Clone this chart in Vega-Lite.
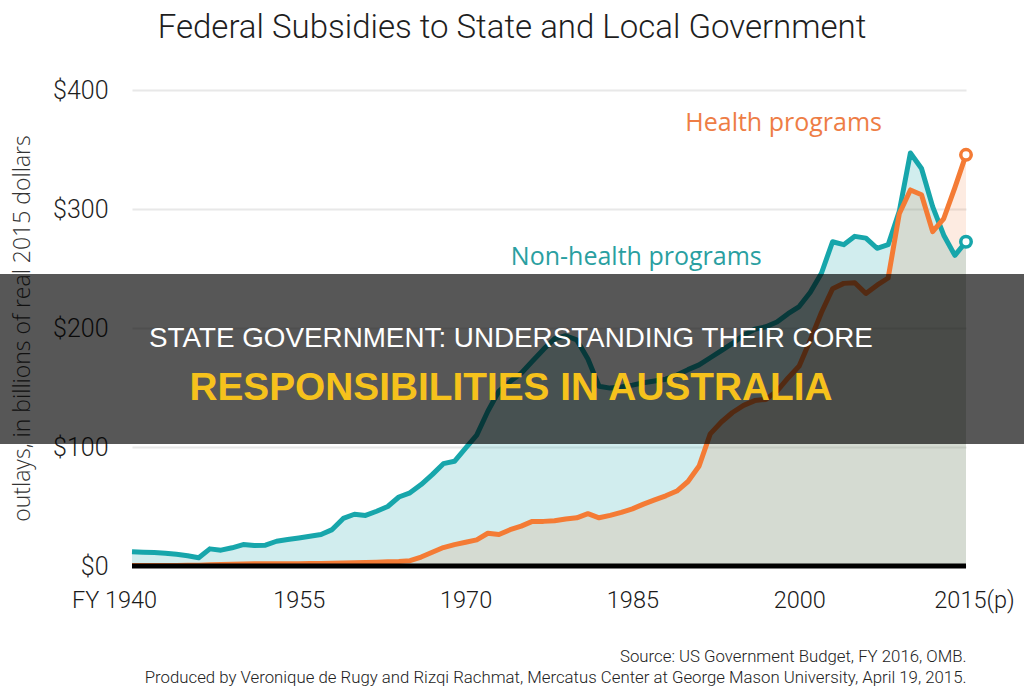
{
  "$schema": "https://vega.github.io/schema/vega-lite/v6.json",
  "autosize": {"type": "none"},
  "padding": {"left": 132, "top": 90, "right": 58, "bottom": 122},
  "width": 834,
  "height": 476,
  "background": "#ffffff",
  "config": {"view": {"stroke": null}},
  "title": {
    "text": "Federal Subsidies to State and Local Government",
    "font": "Roboto",
    "fontWeight": 300,
    "fontSize": 33,
    "color": "#1e1e1e",
    "anchor": "middle",
    "frame": "group",
    "dx": -37,
    "offset": 33
  },
  "datasets": {
    "outlays": [
      {"year": 1940, "nonhealth": 12.0, "health": 0.5},
      {"year": 1941, "nonhealth": 11.6, "health": 0.5},
      {"year": 1942, "nonhealth": 11.4, "health": 0.5},
      {"year": 1943, "nonhealth": 10.8, "health": 0.5},
      {"year": 1944, "nonhealth": 9.8, "health": 0.5},
      {"year": 1945, "nonhealth": 8.6, "health": 0.6},
      {"year": 1946, "nonhealth": 7.0, "health": 0.7},
      {"year": 1947, "nonhealth": 14.4, "health": 1.0},
      {"year": 1948, "nonhealth": 13.3, "health": 1.2},
      {"year": 1949, "nonhealth": 15.3, "health": 1.5},
      {"year": 1950, "nonhealth": 18.0, "health": 1.7},
      {"year": 1951, "nonhealth": 17.2, "health": 1.8},
      {"year": 1952, "nonhealth": 17.5, "health": 1.8},
      {"year": 1953, "nonhealth": 20.8, "health": 1.8},
      {"year": 1954, "nonhealth": 22.2, "health": 1.8},
      {"year": 1955, "nonhealth": 23.5, "health": 1.9},
      {"year": 1956, "nonhealth": 25.0, "health": 2.0},
      {"year": 1957, "nonhealth": 26.5, "health": 2.1},
      {"year": 1958, "nonhealth": 30.6, "health": 2.3},
      {"year": 1959, "nonhealth": 40.0, "health": 2.5},
      {"year": 1960, "nonhealth": 43.5, "health": 2.7},
      {"year": 1961, "nonhealth": 42.5, "health": 3.0},
      {"year": 1962, "nonhealth": 46.0, "health": 3.2},
      {"year": 1963, "nonhealth": 50.0, "health": 3.5},
      {"year": 1964, "nonhealth": 58.0, "health": 3.8},
      {"year": 1965, "nonhealth": 61.5, "health": 4.5},
      {"year": 1966, "nonhealth": 68.4, "health": 7.5},
      {"year": 1967, "nonhealth": 76.8, "health": 11.5},
      {"year": 1968, "nonhealth": 86.0, "health": 15.5},
      {"year": 1969, "nonhealth": 88.0, "health": 18.0},
      {"year": 1970, "nonhealth": 99.0, "health": 20.0},
      {"year": 1971, "nonhealth": 110.0, "health": 22.0},
      {"year": 1972, "nonhealth": 130.0, "health": 27.5},
      {"year": 1973, "nonhealth": 147.0, "health": 26.5},
      {"year": 1974, "nonhealth": 155.0, "health": 30.5},
      {"year": 1975, "nonhealth": 162.0, "health": 33.5},
      {"year": 1976, "nonhealth": 172.0, "health": 37.5},
      {"year": 1977, "nonhealth": 182.0, "health": 37.5},
      {"year": 1978, "nonhealth": 191.0, "health": 38.0},
      {"year": 1979, "nonhealth": 193.5, "health": 39.5},
      {"year": 1980, "nonhealth": 190.0, "health": 40.5},
      {"year": 1981, "nonhealth": 174.0, "health": 44.0},
      {"year": 1982, "nonhealth": 151.0, "health": 40.5},
      {"year": 1983, "nonhealth": 149.5, "health": 42.5},
      {"year": 1984, "nonhealth": 150.5, "health": 45.0},
      {"year": 1985, "nonhealth": 152.0, "health": 48.0},
      {"year": 1986, "nonhealth": 154.0, "health": 52.0},
      {"year": 1987, "nonhealth": 155.5, "health": 55.5},
      {"year": 1988, "nonhealth": 157.0, "health": 59.0},
      {"year": 1989, "nonhealth": 160.5, "health": 63.0},
      {"year": 1990, "nonhealth": 165.0, "health": 71.0},
      {"year": 1991, "nonhealth": 169.0, "health": 84.0},
      {"year": 1992, "nonhealth": 175.0, "health": 111.0},
      {"year": 1993, "nonhealth": 181.0, "health": 121.0},
      {"year": 1994, "nonhealth": 187.0, "health": 129.0},
      {"year": 1995, "nonhealth": 194.0, "health": 135.0},
      {"year": 1996, "nonhealth": 199.0, "health": 139.0},
      {"year": 1997, "nonhealth": 201.0, "health": 140.0},
      {"year": 1998, "nonhealth": 205.0, "health": 147.0},
      {"year": 1999, "nonhealth": 212.0, "health": 158.0},
      {"year": 2000, "nonhealth": 218.0, "health": 168.0},
      {"year": 2001, "nonhealth": 230.0, "health": 190.0},
      {"year": 2002, "nonhealth": 246.0, "health": 213.0},
      {"year": 2003, "nonhealth": 272.5, "health": 233.0},
      {"year": 2004, "nonhealth": 270.0, "health": 237.5},
      {"year": 2005, "nonhealth": 277.0, "health": 238.0},
      {"year": 2006, "nonhealth": 275.5, "health": 229.0},
      {"year": 2007, "nonhealth": 267.0, "health": 236.0},
      {"year": 2008, "nonhealth": 270.0, "health": 242.0},
      {"year": 2009, "nonhealth": 298.0, "health": 296.0},
      {"year": 2010, "nonhealth": 347.0, "health": 316.0},
      {"year": 2011, "nonhealth": 334.0, "health": 312.0},
      {"year": 2012, "nonhealth": 302.0, "health": 281.0},
      {"year": 2013, "nonhealth": 278.0, "health": 292.0},
      {"year": 2014, "nonhealth": 261.0, "health": 318.0},
      {"year": 2015, "nonhealth": 272.5, "health": 345.5}
    ]
  },
  "layer": [
    {
      "data": {"name": "outlays"},
      "mark": {"type": "area", "color": "#17a6ab", "opacity": 0.2},
      "encoding": {
        "x": {
          "field": "year", "type": "quantitative",
          "scale": {"domain": [1940, 2015], "nice": false, "zero": false},
          "axis": {
            "values": [1940, 1955, 1970, 1985, 2000, 2015],
            "format": "d",
            "labelExpr": "datum.value == 1940 ? 'FY 1940' : datum.value == 2015 ? '2015(p)' : datum.label",
            "labelFlush": false,
            "labelBound": false,
            "labelOverlap": false,
            "grid": false, "domain": false, "ticks": false,
            "labelFont": "Roboto",
            "labelFontWeight": 300,
            "labelFontSize": 23.5,
            "labelColor": "#1a1a1a",
            "labelPadding": 22,
            "labelOffset": {
              "condition": [
                {"test": "datum.value == 1940", "value": -18},
                {"test": "datum.value == 2015", "value": 8}
              ],
              "value": 0
            },
            "title": [
              "Source: US Government Budget, FY 2016, OMB.",
              "Produced by Veronique de Rugy and Rizqi Rachmat, Mercatus Center at George Mason University, April 19, 2015."
            ],
            "titleAnchor": "end",
            "titleAlign": "right",
            "titleFont": "Roboto",
            "titleFontSize": 16.8,
            "titleFontWeight": 300,
            "titleColor": "#222222",
            "titleLineHeight": 21,
            "titlePadding": 37
          }
        },
        "y": {
          "field": "nonhealth", "type": "quantitative",
          "scale": {"domain": [0, 400], "nice": false},
          "axis": {
            "values": [0, 100, 200, 300, 400],
            "labelExpr": "'$' + datum.value",
            "grid": true, "gridColor": "#e8e8e8", "gridWidth": 2,
            "domain": false, "ticks": false,
            "labelFont": "Roboto", "labelFontWeight": 300, "labelFontSize": 25,
            "labelColor": "#1e1e1e", "labelPadding": 24,
            "title": "outlays, in billions of real 2015 dollars",
            "titleFont": "Open Sans", "titleFontWeight": 300, "titleFontSize": 23,
            "titleColor": "#333333", "titlePadding": 18
          }
        }
      }
    },
    {
      "data": {"name": "outlays"},
      "mark": {"type": "area", "color": "#f47b35", "opacity": 0.15},
      "encoding": {
        "x": {"field": "year", "type": "quantitative"},
        "y": {"field": "health", "type": "quantitative"}
      }
    },
    {
      "data": {"name": "outlays"},
      "mark": {"type": "line", "color": "#17a6ab", "strokeWidth": 5, "strokeJoin": "round"},
      "encoding": {
        "x": {"field": "year", "type": "quantitative"},
        "y": {"field": "nonhealth", "type": "quantitative"}
      }
    },
    {
      "data": {"name": "outlays"},
      "mark": {"type": "line", "color": "#f47b35", "strokeWidth": 5, "strokeJoin": "round"},
      "encoding": {
        "x": {"field": "year", "type": "quantitative"},
        "y": {"field": "health", "type": "quantitative"}
      }
    },
    {
      "data": {"values": [{}]},
      "mark": {"type": "rule", "color": "#000000", "strokeWidth": 5},
      "encoding": {"y": {"datum": 0, "type": "quantitative"}}
    },
    {
      "data": {"name": "outlays"},
      "transform": [{"filter": "datum.year == 2015"}],
      "mark": {"type": "point", "filled": true, "fill": "#ffffff", "stroke": "#17a6ab", "strokeWidth": 3.5, "size": 110, "opacity": 1},
      "encoding": {
        "x": {"field": "year", "type": "quantitative"},
        "y": {"field": "nonhealth", "type": "quantitative"}
      }
    },
    {
      "data": {"name": "outlays"},
      "transform": [{"filter": "datum.year == 2015"}],
      "mark": {"type": "point", "filled": true, "fill": "#ffffff", "stroke": "#f47b35", "strokeWidth": 3.5, "size": 110, "opacity": 1},
      "encoding": {
        "x": {"field": "year", "type": "quantitative"},
        "y": {"field": "health", "type": "quantitative"}
      }
    },
    {
      "data": {"values": [{}]},
      "mark": {"type": "text", "text": "Health programs", "font": "Open Sans", "fontSize": 25, "color": "#ee7d45", "align": "center", "baseline": "alphabetic"},
      "encoding": {
        "x": {"datum": 1998.6, "type": "quantitative"},
        "y": {"datum": 365.5, "type": "quantitative"}
      }
    },
    {
      "data": {"values": [{}]},
      "mark": {"type": "text", "text": "Non-health programs", "font": "Open Sans", "fontSize": 25, "color": "#2a9fa1", "align": "center", "baseline": "alphabetic"},
      "encoding": {
        "x": {"datum": 1985.35, "type": "quantitative"},
        "y": {"datum": 253, "type": "quantitative"}
      }
    },
    {
      "data": {"values": [{}]},
      "mark": {"type": "rect", "color": "#000000", "opacity": 0.66},
      "encoding": {
        "x": {"datum": 1928, "type": "quantitative"},
        "x2": {"datum": 2021},
        "y": {"datum": 245.4, "type": "quantitative"},
        "y2": {"datum": 102.5}
      }
    },
    {
      "data": {"values": [{}]},
      "mark": {"type": "text", "text": "STATE GOVERNMENT: UNDERSTANDING THEIR CORE", "font": "Liberation Sans", "fontSize": 27.8, "color": "#ffffff", "align": "center", "baseline": "alphabetic"},
      "encoding": {
        "x": {"datum": 1974.08, "type": "quantitative"},
        "y": {"datum": 184, "type": "quantitative"}
      }
    },
    {
      "data": {"values": [{}]},
      "mark": {"type": "text", "text": "RESPONSIBILITIES IN AUSTRALIA", "font": "Liberation Sans", "fontSize": 38.8, "fontWeight": "bold", "color": "#f6c21c", "align": "center", "baseline": "alphabetic"},
      "encoding": {
        "x": {"datum": 1974.08, "type": "quantitative"},
        "y": {"datum": 139.5, "type": "quantitative"}
      }
    }
  ]
}
